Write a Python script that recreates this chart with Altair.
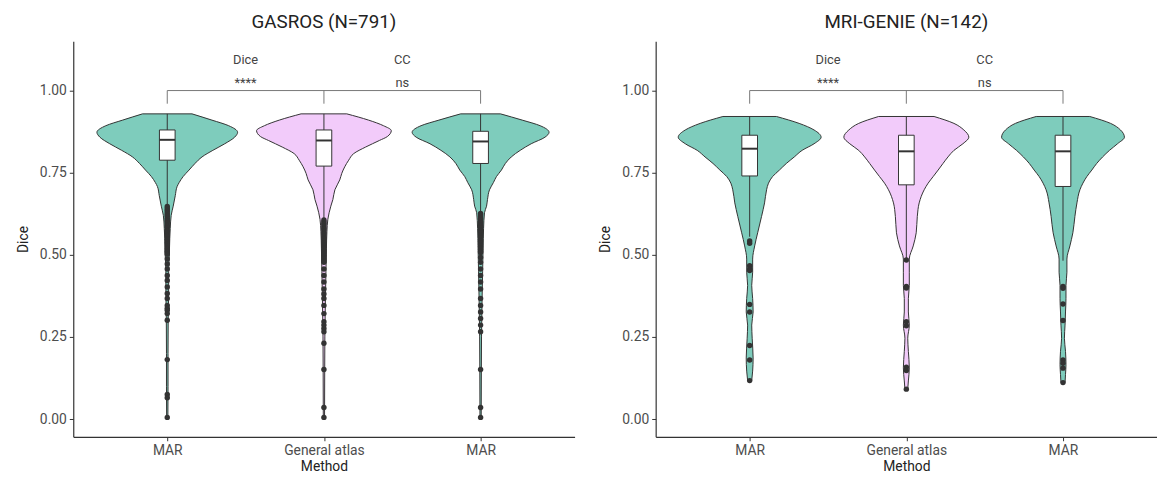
import altair as alt
import pandas as pd

# ---------------- data ----------------
PANEL_TITLES = ["GASROS (N=791)", "MRI-GENIE (N=142)"]
METHODS = ["MAR", "General atlas", "MAR"]
GROUP_COLORS = {"MAR": "#7ECCBC", "General atlas": "#F2CBFA"}

# violin outlines: Dice value and half-width (category units)
G_MAR1_Y = [0.929, 0.910, 0.893, 0.873, 0.858, 0.838, 0.818, 0.798, 0.778, 0.758, 0.738, 0.720, 0.708, 0.680, 0.648, 0.620, 0.580, 0.550, 0.500, 0.450, 0.400, 0.300, 0.200, 0.100, 0.005]
G_MAR1_W = [0.158, 0.285, 0.392, 0.449, 0.430, 0.367, 0.291, 0.222, 0.177, 0.139, 0.101, 0.076, 0.063, 0.051, 0.038, 0.025, 0.019, 0.016, 0.013, 0.009, 0.009, 0.006, 0.005, 0.005, 0.004]
G_GA_Y = [0.929, 0.910, 0.893, 0.878, 0.860, 0.848, 0.828, 0.808, 0.788, 0.768, 0.748, 0.728, 0.698, 0.668, 0.648, 0.608, 0.570, 0.520, 0.450, 0.350, 0.250, 0.150, 0.005]
G_GA_W = [0.146, 0.285, 0.380, 0.430, 0.405, 0.354, 0.266, 0.190, 0.158, 0.133, 0.114, 0.101, 0.070, 0.057, 0.044, 0.025, 0.019, 0.016, 0.013, 0.009, 0.006, 0.005, 0.004]
G_MAR3_Y = [0.929, 0.910, 0.893, 0.873, 0.858, 0.838, 0.818, 0.798, 0.778, 0.758, 0.738, 0.720, 0.698, 0.668, 0.648, 0.628, 0.580, 0.520, 0.450, 0.350, 0.250, 0.150, 0.005]
G_MAR3_W = [0.127, 0.266, 0.380, 0.437, 0.411, 0.323, 0.253, 0.196, 0.158, 0.133, 0.101, 0.082, 0.057, 0.044, 0.038, 0.025, 0.019, 0.016, 0.013, 0.009, 0.006, 0.005, 0.004]

M_MAR1_Y = [0.921, 0.900, 0.880, 0.858, 0.838, 0.818, 0.798, 0.778, 0.758, 0.738, 0.718, 0.698, 0.658, 0.617, 0.567, 0.527, 0.487, 0.447, 0.407, 0.367, 0.326, 0.286, 0.246, 0.186, 0.146, 0.117]
M_MAR1_W = [0.171, 0.316, 0.411, 0.456, 0.411, 0.335, 0.285, 0.234, 0.190, 0.146, 0.120, 0.108, 0.095, 0.076, 0.051, 0.032, 0.019, 0.019, 0.013, 0.019, 0.022, 0.013, 0.016, 0.022, 0.019, 0.013]
M_GA_Y = [0.921, 0.900, 0.880, 0.858, 0.838, 0.818, 0.798, 0.778, 0.758, 0.738, 0.718, 0.698, 0.658, 0.617, 0.567, 0.527, 0.487, 0.447, 0.407, 0.367, 0.326, 0.286, 0.246, 0.206, 0.156, 0.116, 0.091]
M_GA_W = [0.177, 0.304, 0.367, 0.399, 0.361, 0.304, 0.266, 0.234, 0.203, 0.171, 0.139, 0.114, 0.082, 0.070, 0.063, 0.044, 0.019, 0.019, 0.019, 0.013, 0.013, 0.019, 0.009, 0.013, 0.019, 0.013, 0.009]
M_MAR3_Y = [0.921, 0.900, 0.880, 0.858, 0.838, 0.818, 0.798, 0.778, 0.758, 0.738, 0.718, 0.698, 0.658, 0.617, 0.567, 0.527, 0.487, 0.447, 0.407, 0.367, 0.326, 0.286, 0.246, 0.206, 0.166, 0.136, 0.111]
M_MAR3_W = [0.171, 0.304, 0.367, 0.392, 0.348, 0.297, 0.253, 0.215, 0.184, 0.152, 0.127, 0.108, 0.089, 0.076, 0.063, 0.044, 0.025, 0.025, 0.019, 0.019, 0.016, 0.013, 0.009, 0.016, 0.019, 0.016, 0.013]

# box statistics: lower whisker, Q1, median, Q3, upper whisker
G_BOX = [[0.650, 0.788, 0.850, 0.880, 0.929],
         [0.610, 0.770, 0.848, 0.880, 0.929],
         [0.630, 0.778, 0.845, 0.876, 0.929]]
M_BOX = [[0.555, 0.740, 0.823, 0.864, 0.921],
         [0.490, 0.713, 0.815, 0.864, 0.921],
         [0.482, 0.708, 0.815, 0.864, 0.921]]

# outliers
G_MAR1_OUT = [0.647, 0.641, 0.636, 0.632, 0.626, 0.621, 0.617, 0.611, 0.606, 0.602, 0.597, 0.591, 0.586, 0.582,
              0.575, 0.571, 0.566, 0.560, 0.556, 0.549, 0.545, 0.538, 0.533, 0.527, 0.521, 0.516, 0.511, 0.507,
              0.502, 0.487, 0.472, 0.457, 0.437, 0.422, 0.402, 0.382, 0.367, 0.346, 0.337, 0.331, 0.321, 0.301,
              0.181, 0.075, 0.065, 0.005]
G_GA_OUT = [0.606, 0.601, 0.596, 0.592, 0.586, 0.581, 0.577, 0.571, 0.566, 0.562, 0.556, 0.551, 0.547, 0.541,
            0.536, 0.531, 0.526, 0.521, 0.516, 0.511, 0.506, 0.501, 0.496, 0.491, 0.486, 0.481, 0.477,
            0.457, 0.437, 0.417, 0.396, 0.381, 0.367, 0.346, 0.321, 0.296, 0.286, 0.276, 0.266, 0.231,
            0.151, 0.035, 0.005]
G_MAR3_OUT = [0.626, 0.621, 0.616, 0.611, 0.606, 0.601, 0.597, 0.591, 0.586, 0.581, 0.576, 0.571, 0.566, 0.561,
              0.556, 0.551, 0.546, 0.541, 0.536, 0.531, 0.526, 0.521, 0.516, 0.511, 0.507,
              0.492, 0.477, 0.457, 0.437, 0.417, 0.396, 0.367, 0.346, 0.326, 0.306, 0.286, 0.266,
              0.151, 0.035, 0.005]
M_MAR1_OUT = [0.542, 0.535, 0.467, 0.457, 0.452, 0.349, 0.326, 0.224, 0.180, 0.117]
M_GA_OUT = [0.484, 0.404, 0.399, 0.296, 0.284, 0.158, 0.148, 0.091]
M_MAR3_OUT = [0.404, 0.398, 0.350, 0.300, 0.180, 0.170, 0.155, 0.111]

# significance annotations
BRACKET_TOP = 1.0
BRACKET_TICK = 0.96
LABEL_X = [1.5, 2.5]
LABEL_TEXT = ["Dice", "CC"]
SIG_TEXT = ["****", "ns"]

PANELS = [
    dict(title=PANEL_TITLES[0],
         violins=[(G_MAR1_Y, G_MAR1_W), (G_GA_Y, G_GA_W), (G_MAR3_Y, G_MAR3_W)],
         box=G_BOX, out=[G_MAR1_OUT, G_GA_OUT, G_MAR3_OUT]),
    dict(title=PANEL_TITLES[1],
         violins=[(M_MAR1_Y, M_MAR1_W), (M_GA_Y, M_GA_W), (M_MAR3_Y, M_MAR3_W)],
         box=M_BOX, out=[M_MAR1_OUT, M_GA_OUT, M_MAR3_OUT]),
]

FONT = "Roboto"
PW, PH = 507, 400
X_SCALE = alt.Scale(domain=[0.4, 3.6], nice=False, zero=False)
Y_SCALE = alt.Scale(domain=[-0.054, 1.15], nice=False, zero=False)
COLOR_SCALE = alt.Scale(domain=list(GROUP_COLORS.keys()), range=list(GROUP_COLORS.values()))


def make_panel(p):
    brows, orows = [], []
    x_axis = alt.Axis(values=[1, 2, 3], labelExpr="datum.value == 2 ? 'General atlas' : 'MAR'",
                      title="Method", grid=False)
    y_axis = alt.Axis(values=[0, 0.25, 0.5, 0.75, 1.0], format=".2f", title="Dice", grid=False)

    violins = []
    for i, ((ys, ws), box, outs) in enumerate(zip(p["violins"], p["box"], p["out"])):
        pos = i + 1
        grp = METHODS[i]
        vdf = pd.DataFrame(dict(y=ys, w=ws)).sort_values("y")
        vdf["lo"] = pos - vdf["w"]
        vdf["hi"] = pos + vdf["w"]
        vdf["grp"] = grp
        violins.append(
            alt.Chart(vdf).mark_area(orient="horizontal", stroke="#333333", strokeWidth=1.0,
                                     interpolate="monotone").encode(
                y=alt.Y("y:Q", scale=Y_SCALE, axis=y_axis),
                x=alt.X("lo:Q", scale=X_SCALE, axis=x_axis),
                x2="hi:Q",
                fill=alt.Fill("grp:N", scale=COLOR_SCALE, legend=None),
            )
        )
        brows.append(dict(pos=pos, bl=pos - 0.05, br=pos + 0.05, wlo=box[0], q1=box[1],
                          med=box[2], q3=box[3], whi=box[4]))
        for o in outs:
            orows.append(dict(pos=pos, y=o))
    bdf, odf = pd.DataFrame(brows), pd.DataFrame(orows)

    whisk = alt.Chart(bdf).mark_rule(color="#333333", strokeWidth=1.0).encode(
        x=alt.X("pos:Q", scale=X_SCALE), y=alt.Y("wlo:Q", scale=Y_SCALE), y2="whi:Q")
    boxes = alt.Chart(bdf).mark_bar(fill="white", stroke="#333333", strokeWidth=1.0).encode(
        x=alt.X("bl:Q", scale=X_SCALE), x2="br:Q", y=alt.Y("q1:Q", scale=Y_SCALE), y2="q3:Q")
    med = alt.Chart(bdf).mark_rule(color="#333333", strokeWidth=2).encode(
        x=alt.X("bl:Q", scale=X_SCALE), x2="br:Q", y=alt.Y("med:Q", scale=Y_SCALE))
    pts = alt.Chart(odf).mark_circle(color="#333333", opacity=1, size=30).encode(
        x=alt.X("pos:Q", scale=X_SCALE), y=alt.Y("y:Q", scale=Y_SCALE))

    hdf = pd.DataFrame([dict(x1=1, x2=3, y=BRACKET_TOP)])
    tdf = pd.DataFrame([dict(x=v, y1=BRACKET_TICK, y2=BRACKET_TOP) for v in (1, 2, 3)])
    hline = alt.Chart(hdf).mark_rule(color="#777777", strokeWidth=1).encode(
        x=alt.X("x1:Q", scale=X_SCALE), x2="x2:Q", y=alt.Y("y:Q", scale=Y_SCALE))
    ticks = alt.Chart(tdf).mark_rule(color="#777777", strokeWidth=1).encode(
        x=alt.X("x:Q", scale=X_SCALE), y=alt.Y("y1:Q", scale=Y_SCALE), y2="y2:Q")
    ldf = pd.DataFrame([dict(x=x, t=t, s=s) for x, t, s in zip(LABEL_X, LABEL_TEXT, SIG_TEXT)])
    lab = alt.Chart(ldf).mark_text(font=FONT, fontSize=13, color="#444444", baseline="alphabetic").encode(
        x=alt.X("x:Q", scale=X_SCALE), y=alt.value(PH * (1.15 - 1.081) / 1.204), text="t:N")
    sig = alt.Chart(ldf).mark_text(font=FONT, fontSize=13, color="#444444", baseline="alphabetic").encode(
        x=alt.X("x:Q", scale=X_SCALE), y=alt.value(PH * (1.15 - 1.012) / 1.204), text="s:N")

    return alt.layer(*violins, whisk, boxes, med, pts, hline, ticks, lab, sig).properties(
        width=PW, height=PH,
        title=alt.TitleParams(p["title"], fontSize=19, fontWeight="normal", font=FONT, anchor="middle",
                              color="#222222", offset=9))


chart = alt.hconcat(*[make_panel(p) for p in PANELS], spacing=24).properties(
    padding={"left": 8, "top": 3, "right": 0, "bottom": 0}
).configure_view(stroke=None).configure_axis(
    domainColor="#333333", domainWidth=1.2, tickColor="#333333", tickSize=4, labelPadding=3,
    labelFont=FONT, labelFontSize=14, labelColor="#4d4d4d",
    titleFont=FONT, titleFontSize=14, titleFontWeight="normal", titleColor="#222222",
).configure_axisY(titlePadding=9).configure_axisX(titlePadding=2)

chart.save("out.html", embed_options={"renderer": "svg", "actions": False})
